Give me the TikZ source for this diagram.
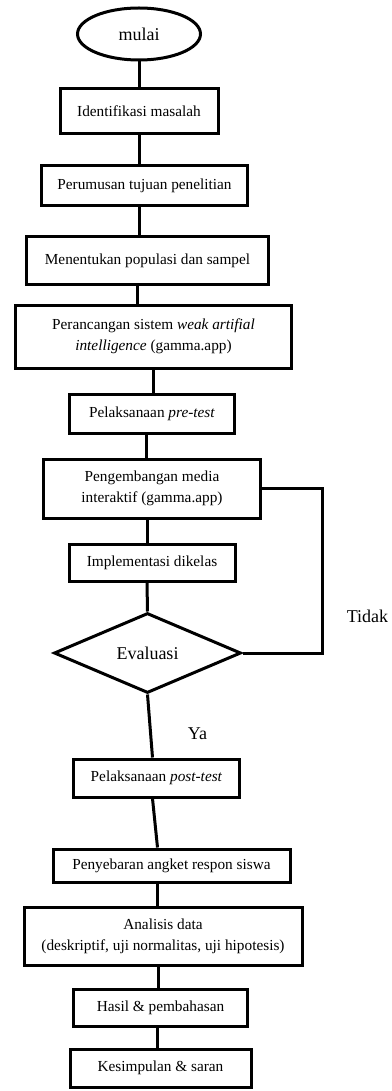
\documentclass[tikz,border=0pt]{standalone}
\usepackage{fontspec}
\setmainfont{Liberation Serif}
\usetikzlibrary{positioning,shapes.geometric}

\begin{document}
\begin{tikzpicture}[
  process/.style={
    draw,
    line width=3pt,
    align=center,
    inner sep=2pt,
    font=\fontsize{15.3}{21}\selectfont
  },
  terminal/.style={draw,ellipse,line width=3pt,inner sep=0pt,font=\fontsize{18}{22}\selectfont},
  decision/.style={draw,diamond,line width=3pt,inner sep=0pt,font=\fontsize{18}{22}\selectfont},
  answer/.style={font=\fontsize{18}{22}\selectfont},
  flowline/.style={line width=3pt}
]
  \useasboundingbox (0,0) rectangle (391pt,-1091pt);
  \node[terminal,minimum width=123pt,minimum height=52pt] (mulai) at (139pt,-34pt) {mulai};
  \node[process,minimum width=158pt,minimum height=45pt,below=26pt of mulai] (identifikasi) {Identifikasi masalah};
  \node[process,minimum width=206pt,minimum height=40pt,below=29pt of identifikasi,xshift=5.5pt] (perumusan) {Perumusan tujuan penelitian};
  \node[process,minimum width=242pt,minimum height=47pt,below=28pt of perumusan,xshift=3pt] (populasi) {Menentukan populasi dan sampel};
  \node[process,minimum width=276pt,minimum height=63pt,below=18pt of populasi,xshift=6pt] (perancangan) {Perancangan sistem \textit{weak artifial}\\\textit{intelligence} (gamma.app)};
  \node[process,minimum width=165pt,minimum height=39pt,below=23pt of perancangan,xshift=-1.5pt] (pretest) {Pelaksanaan \textit{pre-test}};
  \node[process,minimum width=217pt,minimum height=59pt,below=23pt of pretest] (pengembangan) {Pengembangan media\\interaktif (gamma.app)};
  \node[process,minimum width=166pt,minimum height=37pt,below=23pt of pengembangan] (implementasi) {Implementasi dikelas};
  \node[decision,minimum width=187pt,minimum height=80pt,below=29pt of implementasi,xshift=-4.5pt] (evaluasi) {Evaluasi};
  \node[process,minimum width=166pt,minimum height=38pt,below=63pt of evaluasi,xshift=9pt] (posttest) {Pelaksanaan \textit{post-test}};
  \node[process,minimum width=237pt,minimum height=33pt,below=49pt of posttest,xshift=15pt] (angket) {Penyebaran angket respon siswa};
  \node[process,minimum width=278pt,minimum height=58pt,below=22pt of angket,xshift=-8.5pt] (analisis) {Analisis data\\(deskriptif, uji normalitas, uji hipotesis)};
  \node[process,minimum width=174pt,minimum height=37pt,below=21pt of analisis,xshift=-2.5pt] (hasil) {Hasil \& pembahasan};
  \node[process,minimum width=181pt,minimum height=38pt,below=20pt of hasil] (kesimpulan) {Kesimpulan \& saran};
  \node[answer] (tidak) at ([xshift=220pt,yshift=37pt]evaluasi.center) {Tidak};
  \node[answer] (ya) at ([xshift=50pt,yshift=-81pt]evaluasi.center) {Ya};
  \draw[flowline] (mulai.south) -- (mulai.south |- identifikasi.north);
  \draw[flowline] (identifikasi.south) -- (identifikasi.south |- perumusan.north);
  \draw[flowline] ([xshift=-5pt]perumusan.south) -- ([xshift=-5pt]perumusan.south |- populasi.north);
  \draw[flowline] ([xshift=-10pt]populasi.south) -- ([xshift=-10pt]populasi.south |- perancangan.north);
  \draw[flowline] (perancangan.south) -- (perancangan.south |- pretest.north);
  \draw[flowline] ([xshift=-6pt]pretest.south) -- ([xshift=-6pt]pretest.south |- pengembangan.north);
  \draw[flowline] ([xshift=-5pt]pengembangan.south) -- ([xshift=-5pt]pengembangan.south |- implementasi.north);
  \draw[flowline] ([xshift=-5pt]implementasi.south) -- (evaluasi.north);
  \draw[flowline] (evaluasi.east) -- ++(80pt,0) |- (pengembangan.east);
  \draw[flowline] (evaluasi.south) -- ([xshift=-4pt]posttest.north);
  \draw[flowline] ([xshift=-4pt]posttest.south) -- ([xshift=-14pt]angket.north);
  \draw[flowline] ([xshift=-14pt]angket.south) -- ([xshift=-14pt]angket.south |- analisis.north);
  \draw[flowline] ([xshift=-5pt]analisis.south) -- ([xshift=-5pt]analisis.south |- hasil.north);
  \draw[flowline] ([xshift=-3pt]hasil.south) -- ([xshift=-3pt]hasil.south |- kesimpulan.north);
\end{tikzpicture}
\end{document}
